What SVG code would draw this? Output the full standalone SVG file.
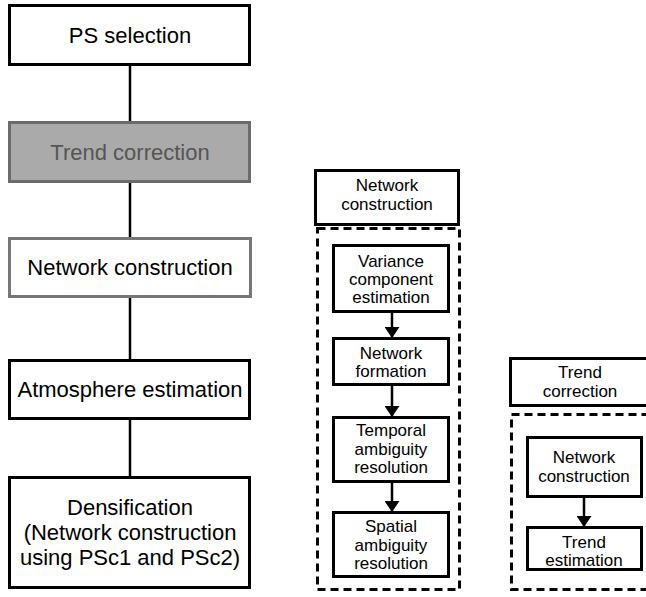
<svg xmlns="http://www.w3.org/2000/svg" width="646" height="597" viewBox="0 0 646 597">
  <style>
    .box { fill: #ffffff; stroke: #000000; stroke-width: 3; }
    .grey { fill: #aaaaaa; stroke: #6b6b6b; stroke-width: 3; }
    .soft { fill: #ffffff; stroke: #777777; stroke-width: 3; }
    .group { fill: none; stroke: #000000; stroke-width: 3; stroke-dasharray: 8 5; }
    .big { font-family: "Liberation Sans", Arial, sans-serif; font-size: 22px; fill: #000000; text-anchor: middle; }
    .small { font-family: "Liberation Sans", Arial, sans-serif; font-size: 17px; fill: #000000; text-anchor: middle; }
    .dim { fill: #555555; }
    .link { stroke: #000000; stroke-width: 2.5; fill: none; }
    .flow { stroke: #000000; stroke-width: 2.5; fill: none; marker-end: url(#head); }
  </style>
  <defs>
    <marker id="head" viewBox="0 0 11 15" refX="11" refY="7.5" markerWidth="11" markerHeight="15" markerUnits="userSpaceOnUse" orient="auto">
      <path d="M0,0 L11,7.5 L0,15 Z" fill="#000000"/>
    </marker>
  </defs>

  <!-- connectors -->
  <g id="connectors">
    <line class="link" x1="130" y1="64" x2="130" y2="122"/>
    <line class="link" x1="130" y1="182" x2="130" y2="238"/>
    <line class="link" x1="130" y1="297" x2="130" y2="360"/>
    <line class="link" x1="130" y1="419" x2="130" y2="477"/>
    <line class="flow" x1="392" y1="312" x2="392" y2="338"/>
    <line class="flow" x1="392" y1="385" x2="392" y2="417"/>
    <line class="flow" x1="392" y1="482" x2="392" y2="512"/>
    <line class="flow" x1="584" y1="497" x2="584" y2="527"/>
  </g>

  <!-- main processing chain -->
  <g id="ps-selection">
    <rect class="box" x="9.5" y="5.5" width="240" height="59"/>
    <text class="big" x="130" y="43">PS selection</text>
  </g>
  <g id="trend-correction">
    <rect class="grey" x="9.5" y="122.5" width="240" height="59"/>
    <text class="big dim" x="130" y="160">Trend correction</text>
  </g>
  <g id="network-construction">
    <rect class="soft" x="9.5" y="238.5" width="241" height="58"/>
    <text class="big" x="130" y="275">Network construction</text>
  </g>
  <g id="atmosphere-estimation">
    <rect class="box" x="9.5" y="360.5" width="240" height="58"/>
    <text class="big" x="130" y="397">Atmosphere estimation</text>
  </g>
  <g id="densification">
    <rect class="box" x="9.5" y="477.5" width="240" height="110"/>
    <text class="big" x="130" y="515">Densification</text>
    <text class="big" x="130" y="540">(Network construction</text>
    <text class="big" x="130" y="565">using PSc1 and PSc2)</text>
  </g>

  <!-- network construction detail -->
  <g id="nc-header">
    <rect class="box" x="315.5" y="170.5" width="143" height="54"/>
    <text class="small" x="387" y="191">Network</text>
    <text class="small" x="387" y="210">construction</text>
  </g>
  <g id="nc-group">
    <rect class="group" x="317.5" y="228.5" width="142" height="361"/>
  </g>
  <g id="variance-component-estimation">
    <rect class="box" x="333.5" y="245.5" width="115" height="66"/>
    <text class="small" x="391" y="267">Variance</text>
    <text class="small" x="391" y="285">component</text>
    <text class="small" x="391" y="303">estimation</text>
  </g>
  <g id="network-formation">
    <rect class="box" x="333.5" y="338.5" width="115" height="46"/>
    <text class="small" x="391" y="359">Network</text>
    <text class="small" x="391" y="377">formation</text>
  </g>
  <g id="temporal-ambiguity-resolution">
    <rect class="box" x="333.5" y="417.5" width="115" height="64"/>
    <text class="small" x="391" y="436">Temporal</text>
    <text class="small" x="391" y="455">ambiguity</text>
    <text class="small" x="391" y="473">resolution</text>
  </g>
  <g id="spatial-ambiguity-resolution">
    <rect class="box" x="333.5" y="512.5" width="115" height="64"/>
    <text class="small" x="391" y="532">Spatial</text>
    <text class="small" x="391" y="551">ambiguity</text>
    <text class="small" x="391" y="569">resolution</text>
  </g>

  <!-- trend correction detail -->
  <g id="tc-header">
    <rect class="box" x="510.5" y="358.5" width="145" height="47"/>
    <text class="small" x="580" y="378">Trend</text>
    <text class="small" x="580" y="397">correction</text>
  </g>
  <g id="tc-group">
    <rect class="group" x="511.5" y="414.5" width="150" height="175"/>
  </g>
  <g id="tc-network-construction">
    <rect class="box" x="527.5" y="437.5" width="114" height="59"/>
    <text class="small" x="584" y="463">Network</text>
    <text class="small" x="584" y="482">construction</text>
  </g>
  <g id="trend-estimation">
    <rect class="box" x="527.5" y="527.5" width="114" height="42"/>
    <text class="small" x="584" y="548">Trend</text>
    <text class="small" x="584" y="566">estimation</text>
  </g>
</svg>
